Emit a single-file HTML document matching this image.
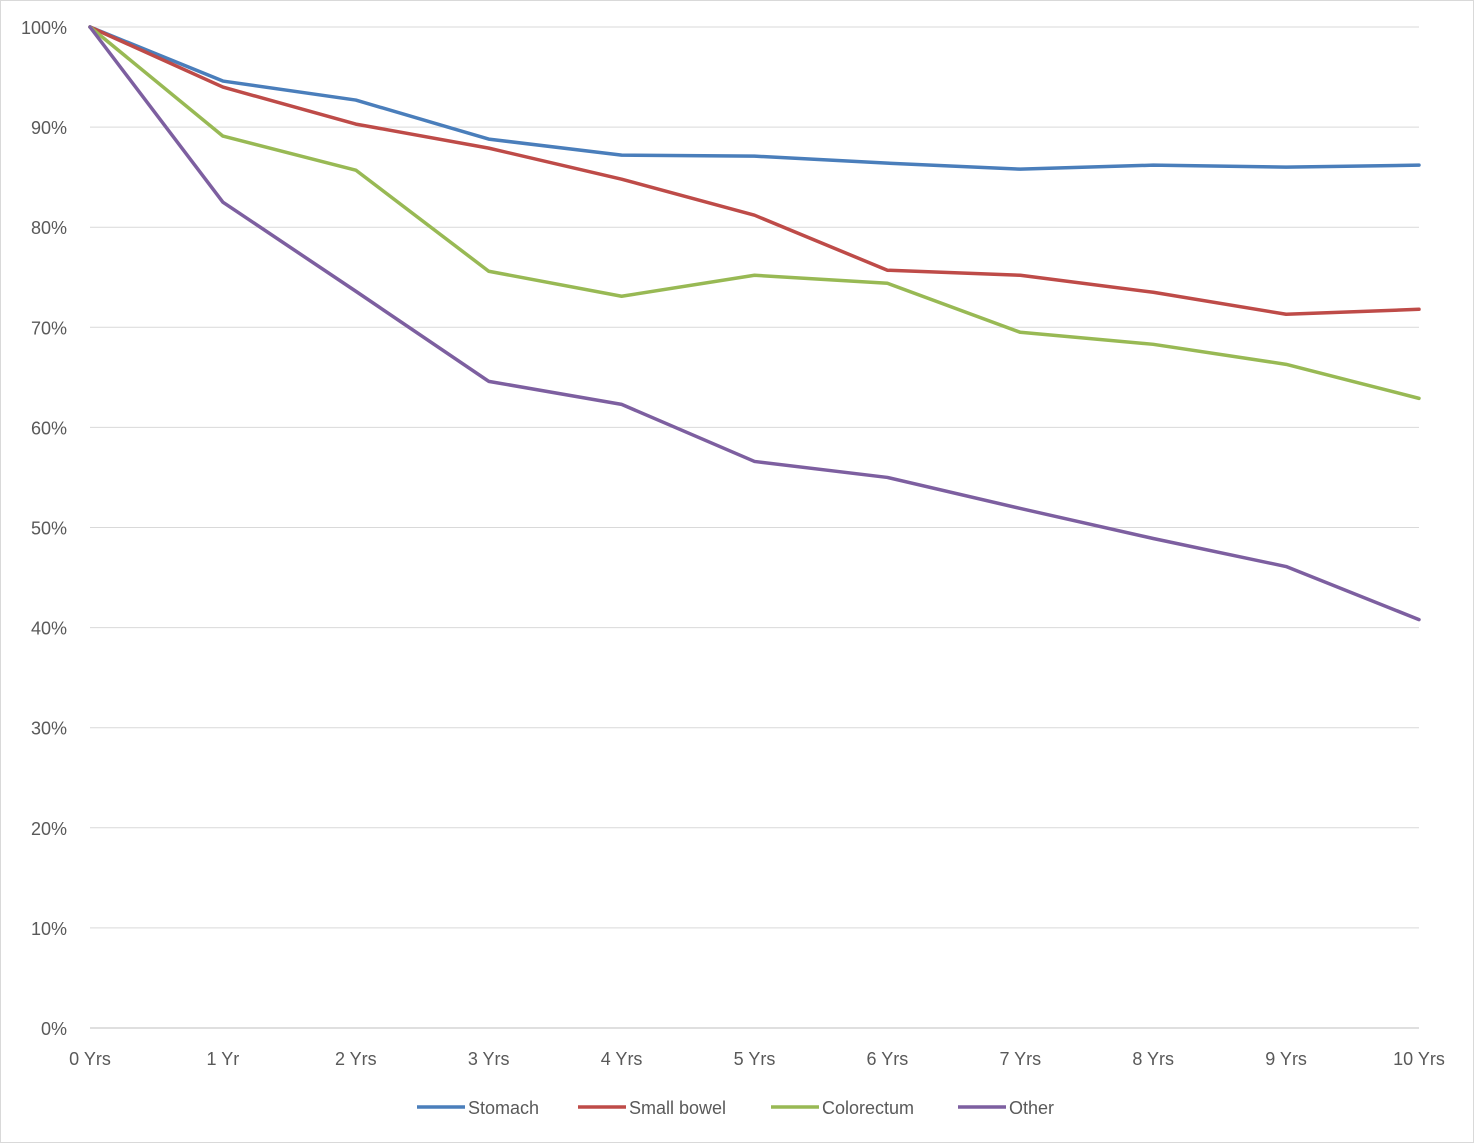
<!DOCTYPE html>
<html><head><meta charset="utf-8"><style>
html,body{margin:0;padding:0;background:#fff;}
svg{display:block;font-family:"Liberation Sans",sans-serif;}
</style></head><body>
<svg id="chart" width="1474" height="1143">
<rect x="0.5" y="0.5" width="1473" height="1142" fill="#fff" stroke="#d9d9d9"/>
<g id="grid"></g><g id="axes"></g><g id="series"></g><g id="legend"></g>
</svg>
<script>
const categories = ["0 Yrs","1 Yr","2 Yrs","3 Yrs","4 Yrs","5 Yrs","6 Yrs","7 Yrs","8 Yrs","9 Yrs","10 Yrs"];
const yTicks = [0,10,20,30,40,50,60,70,80,90,100];
const stomach = [100,94.6,92.7,88.8,87.2,87.1,86.4,85.8,86.2,86.0,86.2];
const smallBowel = [100,94.0,90.3,87.9,84.8,81.2,75.7,75.2,73.5,71.3,71.8];
const colorectum = [100,89.1,85.7,75.6,73.1,75.2,74.4,69.5,68.3,66.3,62.9];
const other = [100,82.5,73.6,64.6,62.3,56.6,55.0,51.9,48.9,46.1,40.8];
const seriesNames = ["Stomach","Small bowel","Colorectum","Other"];

const NS="http://www.w3.org/2000/svg";
const x0=90,x1=1419,yTop=27,yBot=1028;
const xs=i=>x0+(x1-x0)*i/(categories.length-1);
const ys=v=>yBot-(yBot-yTop)*v/100;
function mk(t,a,p){const e=document.createElementNS(NS,t);for(const k in a)e.setAttribute(k,a[k]);p.appendChild(e);return e;}
const grid=document.getElementById('grid'),axes=document.getElementById('axes');
yTicks.forEach(v=>{
  const l=mk('line',{x1:x0,x2:x1,y1:ys(v),y2:ys(v),stroke:v===0?'#bfbfbf':'#d9d9d9','stroke-width':1},grid);
  
  
  const t=mk('text',{x:67,y:ys(v)+7,'text-anchor':'end','font-size':18,fill:'#595959'},axes);
  t.textContent=v+'%';
  
  
});
categories.forEach((c,i)=>{
  const t=mk('text',{x:xs(i),y:1065,'text-anchor':'middle','font-size':18,fill:'#595959'},axes);
  t.textContent=c;
  
  
});
const data=[stomach,smallBowel,colorectum,other];
const colors=["#4a7ebb","#be4b48","#98b954","#7d5fa0"];
const sg=document.getElementById('series');
data.forEach((d,k)=>{
  const p=mk('polyline',{points:d.map((v,i)=>xs(i)+','+ys(v)).join(' '),fill:'none',stroke:colors[k],'stroke-width':3.5,'stroke-linejoin':'round','stroke-linecap':'round'},sg);
  
  
});
const lg=document.getElementById('legend');
const lx=[417,578,771,958];
seriesNames.forEach((n,k)=>{
  const g=mk('g',{},lg);
  
  
  mk('line',{x1:lx[k],x2:lx[k]+48,y1:1107,y2:1107,stroke:colors[k],'stroke-width':3.5},g);
  const t=mk('text',{x:lx[k]+51,y:1114,'font-size':18,fill:'#595959'},g);
  t.textContent=n;
});
</script>
</body></html>
